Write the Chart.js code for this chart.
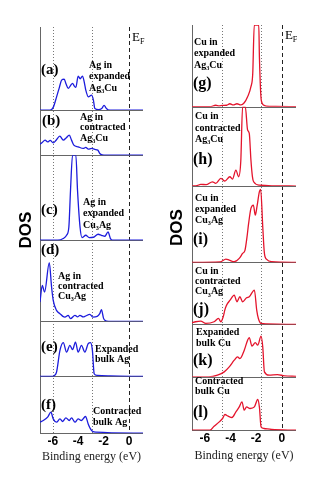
<!DOCTYPE html>
<html>
<head>
<meta charset="utf-8">
<script src="https://cdn.jsdelivr.net/npm/chart.js@4.4.1/dist/chart.umd.min.js"></script>
<style>
  html, body { margin: 0; padding: 0; background: #fff; }
  #wrap { position: relative; width: 320px; height: 480px; }
  #wrap canvas { position: absolute; top: 0; }
</style>
</head>
<body>
<div id="wrap">
  <canvas id="agChart" width="160" height="480" style="left:0"></canvas>
  <canvas id="cuChart" width="160" height="480" style="left:160px"></canvas>
</div>
<script>
// x = binding energy (eV), y = DOS (arbitrary units)
const xTicks = [-6, -4, -2, 0];
const agEdges = [-6, -2.9];
const cuEdges = [-4.7, -1.6];

const agTags = ['(a)', '(b)', '(c)', '(d)', '(e)', '(f)'];
const agNotes = [
  ['Ag in', 'expanded', 'Ag_3Cu'],
  ['Ag in', 'contracted', 'Ag_3Cu'],
  ['Ag in', 'expanded', 'Cu_3Ag'],
  ['Ag in', 'contracted', 'Cu_3Ag'],
  ['Expanded', 'bulk Ag'],
  ['Contracted', 'bulk Ag']
];
const cuTags = ['(g)', '(h)', '(i)', '(j)', '(k)', '(l)'];
const cuNotes = [
  ['Cu in', 'expanded', 'Ag_3Cu'],
  ['Cu in', 'contracted', 'Ag_3Cu'],
  ['Cu in', 'expanded', 'Cu_3Ag'],
  ['Cu in', 'contracted', 'Cu_3Ag'],
  ['Expanded', 'bulk Cu'],
  ['Contracted', 'bulk Cu']
];

// (a) Ag in expanded Ag3Cu
const aE = [-7, -6.2, -5.96, -5.7, -5.47, -5.3, -5.1, -4.95, -4.78, -4.6, -4.44, -4.3, -4.18, -4.0, -3.84, -3.66, -3.52, -3.4, -3.2, -2.94, -2.8, -2.69, -2.4, -2.15, -1.96, -1.8, -1.65, -1.3, 1.1];
const aDos = [0, 0, 2.7, 13, 23, 30, 31, 26, 21.7, 24.5, 26.7, 24, 22.7, 34, 31.3, 34, 28, 20, 13.3, 15, 10, 1.7, 0.5, 1.5, 4.7, 2, 0.3, 0, 0];
// (b) Ag in contracted Ag3Cu
const bE = [-7, -6.85, -6.6, -6.4, -6.2, -5.96, -5.75, -5.44, -5.17, -4.91, -4.7, -4.52, -4.34, -4.0, -3.6, -3.4, -3.2, -2.95, -2.69, -2.45, -2.3, -2.1, -1.8, 1.1];
const bDos = [11, 12.3, 15, 13.3, 14.7, 12.3, 14.7, 19, 15, 17.7, 20, 15, 10, 8.3, 6.7, 7.7, 6, 6.7, 5.7, 5, 1.7, 0.3, 0, 0];
// (c) Ag in expanded Cu3Ag
const cE = [-7, -5.6, -5.17, -4.91, -4.73, -4.6, -4.44, -4.18, -4.05, -3.85, -3.7, -3.4, -3.13, -2.8, -2.43, -2.17, -1.9, -1.65, -1.46, -1.3, 1.1];
const cDos = [0, 0, 1.7, 5, 13.3, 50, 85, 85, 50, 13, 2.7, 5, 2.7, 3, 6, 5, 4, 8.3, 1.7, 0, 0];
// (d) Ag in contracted Cu3Ag
const dE = [-7, -6.82, -6.64, -6.27, -6.09, -5.96, -5.7, -5.43, -5.2, -5.04, -4.78, -4.6, -4.25, -4.05, -3.86, -3.6, -3.47, -3.08, -2.85, -2.5, -2.3, -2.17, -2.0, -1.9, -1.6, 1.1];
const dDos = [19.3, 36, 29.3, 58.7, 34.3, 21, 11, 7.7, 5, 4.3, 6, 2.7, 6, 4.5, 6, 4.5, 5, 7, 4.3, 5, 7.7, 11.7, 3, 1, 0, 0];
// (e) expanded bulk Ag
const eE = [-7, -6.0, -5.85, -5.7, -5.43, -5.17, -4.91, -4.65, -4.44, -4.21, -4.0, -3.74, -3.47, -3.21, -3.03, -2.88, -2.74, -2.5, -1.5, 1.1];
const eDos = [0, 0, 1, 4.3, 26, 33.7, 24.3, 31, 26.7, 34.3, 24.3, 31, 24.3, 32.7, 33.7, 26, 2.7, 1, 0.5, 0];
// (f) contracted bulk Ag
const fE = [-7, -6.74, -6.4, -6.14, -5.96, -5.7, -5.43, -5.22, -4.96, -4.7, -4.52, -4.25, -4.0, -3.74, -3.42, -3.21, -3.03, -2.88, -2.6, 1.1];
const fDos = [11, 12.7, 16, 21, 14.3, 11, 14.3, 11.7, 15.3, 12.7, 15.3, 11, 14.3, 12.7, 16.7, 9.3, 4.3, 2, 1, 0];

// (g) Cu in expanded Ag3Cu
const gE = [-7, -5.6, -5.15, -4.9, -4.62, -4.3, -4.05, -3.79, -3.5, -3.19, -2.93, -2.67, -2.41, -2.27, -2.15, -1.8, -1.75, -1.6, -1.4, -1.23, -0.5, 1.1];
const gDos = [0, 0, 1.5, 0.8, 1.3, 1.5, 3, 1.8, 3, 1.8, 4, 10, 20, 33, 81.7, 81.7, 50, 6, 1.5, 0.7, 0.3, 0];
// (h) Cu in contracted Ag3Cu
const hE = [-7, -6.6, -6.32, -5.9, -5.41, -5.15, -4.75, -4.44, -4.05, -3.85, -3.58, -3.37, -3.2, -3.06, -2.85, -2.67, -2.54, -2.41, -2.3, -2.2, -1.75, 1.1];
const hDos = [0, 0.5, 1.7, 1.5, 4.3, 2.7, 7.7, 5, 9.3, 7, 16, 9.3, 25, 79.3, 79.3, 56, 52.7, 26, 10, 4.3, 1, 0];
// (i) Cu in expanded Cu3Ag
const iE = [-7, -4.8, -4.36, -4.1, -3.71, -3.32, -3.06, -2.87, -2.72, -2.59, -2.41, -2.22, -2.07, -1.94, -1.75, -1.65, -1.49, -1.36, -1.18, -0.8, 1.1];
const iDos = [0, 0.5, 3.3, 2.3, 0.7, 4, 9, 12.3, 25, 39, 54, 57.3, 47.3, 55.7, 70.7, 73, 35.7, 9, 3, 0.7, 0];
// (j) Cu in contracted Cu3Ag
const jE = [-7, -6.72, -6.32, -5.93, -5.28, -4.94, -4.75, -4.57, -4.45, -4.36, -4.23, -4.05, -3.71, -3.5, -3.27, -3.06, -2.75, -2.54, -2.14, -1.96, -1.83, -1.62, -1.2, 1.1];
const jDos = [1.7, 2.7, 3.3, 1, 2.7, 6, 2.7, 7.7, 14, 17.7, 21, 24, 29.3, 22.7, 27.7, 22.7, 26.7, 27.7, 34.3, 14.3, 6, 1, 0.5, 0];
// (k) expanded bulk Cu
const kE = [-7, -5.7, -5.02, -4.49, -4.1, -3.71, -3.45, -3.27, -2.93, -2.67, -2.54, -2.33, -2.07, -1.88, -1.62, -1.49, -1.36, -1.0, -0.35, 0.2, 1.1];
const kDos = [0, 0, 1.7, 5, 10, 16.7, 20, 18.3, 26.7, 36.7, 39.3, 30.7, 34.3, 31.7, 40.7, 30, 5, 1.7, 2.3, 1, 0.5];
// (l) contracted bulk Cu
const lE = [-7, -5.6, -5.28, -4.88, -4.62, -4.44, -4.18, -3.89, -3.58, -3.32, -3.11, -2.93, -2.75, -2.48, -2.14, -1.88, -1.75, -1.62, -1.4, -0.8, 1.1];
const lDos = [0, 0, 4, 8.3, 11.7, 15.7, 14, 12.7, 18.3, 23.3, 28.3, 20, 23.3, 21.7, 23.3, 30.7, 23, 3.3, 1.7, 0.7, 0];

// full scale of each stacked panel (same units as the DOS values)
const agMax = [83, 45, 85, 81, 55, 56.7];
const cuMax = [81.7, 79.3, 76.3, 62, 52.4, 53.3];

// label placement per panel: [tag dx, tag dy, note dx, note dy, line gap]
const agLayout = [[1, 43, 49, 38, 11.5], [2, 11, 40, 7, 10.5], [1, 55, 43, 47, 11.5],
                  [1, 10, 18, 36, 10], [1, 26, 55, 28, 10], [1, 29, 53, 35, 11]];
const cuLayout = [[1, 59, 2, 17.7, 11.2], [1, 53.3, 3, 10, 11.3], [1, 54, 3, 12.3, 11],
                  [1, 47.7, 3, 8.7, 10.3], [1, 36.7, 4, 8.4, 10.6], [1, 36.3, 3, 5, 10]];

function series(E, D) {
  return E.map((x, i) => ({ x, y: D[i] }));
}

// draws "Ag_3Cu" style text, the char after "_" as a subscript
function richText(ctx, str, x, y, size, font) {
  const parts = str.split(/_(.)/);
  let cx = x;
  parts.forEach((t, i) => {
    if (!t) return;
    const sub = i % 2 === 1;
    ctx.font = font.replace('SZ', (sub ? size * 0.62 : size) + 'px');
    ctx.fillText(t, cx, sub ? y + size * 0.32 : y);
    cx += ctx.measureText(t).width;
  });
}

const dosPanels = {
  id: 'dosPanels',
  beforeDatasetsDraw(chart, args, o) {
    const { ctx, chartArea: a, scales } = chart;
    const x = scales.x;
    const vline = (v) => {
      const px = Math.round(x.getPixelForValue(v)) + 0.5;
      ctx.beginPath(); ctx.moveTo(px, a.top); ctx.lineTo(px, a.bottom); ctx.stroke();
    };
    ctx.save();
    ctx.lineWidth = 1;
    ctx.strokeStyle = '#777';
    ctx.setLineDash([1, 2]);
    o.edges.forEach(vline);
    ctx.strokeStyle = '#222';
    ctx.setLineDash([4, 3]);
    vline(0);
    ctx.setLineDash([]);
    ctx.strokeStyle = '#666';
    o.tags.forEach((t, i) => {
      const py = Math.round(scales['y' + i].bottom) + 0.5;
      ctx.beginPath(); ctx.moveTo(a.left, py); ctx.lineTo(a.right, py); ctx.stroke();
    });
    ctx.beginPath(); ctx.moveTo(a.left + 0.5, a.top); ctx.lineTo(a.left + 0.5, a.bottom); ctx.stroke();
    ctx.restore();
  },
  afterDraw(chart, args, o) {
    const { ctx, chartArea: a, scales } = chart;
    ctx.save();
    ctx.fillStyle = '#000';
    ctx.textBaseline = 'middle';
    ctx.textAlign = 'left';
    o.tags.forEach((t, i) => {
      const s = scales['y' + i];
      const [tx, ty, nx, ny, gap] = o.layout[i];
      ctx.font = o.tagFont;
      ctx.fillText(t, a.left + tx, s.top + ty);
      o.notes[i].forEach((line, k) => {
        richText(ctx, line, a.left + nx, s.top + ny + k * gap, 10, 'bold SZ "Liberation Serif", serif');
      });
    });
    // Fermi level label
    richText(ctx, 'E_F', scales.x.getPixelForValue(0) + 3, a.top + 11, 13, 'SZ "Liberation Serif", serif');
    // DOS axis label
    ctx.translate(a.left - o.dosGap, (a.top + a.bottom) / 2);
    ctx.rotate(-Math.PI / 2);
    ctx.textAlign = 'center';
    ctx.font = 'bold 17px "Liberation Sans", Arial, sans-serif';
    ctx.fillText('DOS', 0, 0);
    ctx.restore();
  }
};

function makeChart(id, cfg) {
  const scales = {
    x: {
      type: 'linear', min: -7, max: 1.1,
      afterBuildTicks: (s) => { s.ticks = xTicks.map(v => ({ value: v })); },
      grid: { display: false, drawTicks: false },
      border: { display: false },
      ticks: { padding: 1, color: '#000', font: { family: 'Liberation Sans', weight: 'bold', size: 12 } },
      title: {
        display: true, text: 'Binding energy (eV)', color: '#222',
        font: { family: 'Liberation Serif', size: 12 },
        padding: { top: cfg.titleGap, bottom: 4 }
      }
    }
  };
  // stacked panels: later keys end up higher on the left stack
  for (let i = cfg.data.length - 1; i >= 0; i--) {
    scales['y' + i] = {
      type: 'linear', position: 'left', stack: 'dos',
      stackWeight: cfg.max[i], min: 0, max: cfg.max[i], display: false
    };
  }
  return new Chart(document.getElementById(id).getContext('2d'), {
    type: 'line',
    data: {
      datasets: cfg.data.map((d, i) => ({
        data: series(d[0], d[1]),
        yAxisID: 'y' + i,
        borderColor: cfg.color,
        borderWidth: 1.3,
        pointRadius: 0,
        fill: false,
        cubicInterpolationMode: 'monotone'
      }))
    },
    options: {
      responsive: false,
      animation: false,
      layout: { padding: cfg.padding },
      scales,
      plugins: {
        legend: { display: false },
        tooltip: { enabled: false },
        dosPanels: {
          edges: cfg.edges, tags: cfg.tags, notes: cfg.notes, layout: cfg.layout,
          tagFont: cfg.tagFont, dosGap: cfg.dosGap
        }
      }
    },
    plugins: [dosPanels]
  });
}

makeChart('agChart', {
  data: [[aE, aDos], [bE, bDos], [cE, cDos], [dE, dDos], [eE, eDos], [fE, fDos]],
  max: agMax, edges: agEdges, tags: agTags, notes: agNotes, layout: agLayout,
  color: '#1c1cdc', tagFont: 'bold 15px "Liberation Serif", serif',
  padding: { left: 40, right: 17, top: 27, bottom: 12 }, titleGap: 0, dosGap: 14
});

makeChart('cuChart', {
  data: [[gE, gDos], [hE, hDos], [iE, iDos], [jE, jDos], [kE, kDos], [lE, lDos]],
  max: cuMax, edges: cuEdges, tags: cuTags, notes: cuNotes, layout: cuLayout,
  color: '#e4142c', tagFont: 'bold 16px "Liberation Serif", serif',
  padding: { left: 32, right: 24, top: 25, bottom: 13 }, titleGap: 2, dosGap: 15
});
</script>
</body>
</html>
